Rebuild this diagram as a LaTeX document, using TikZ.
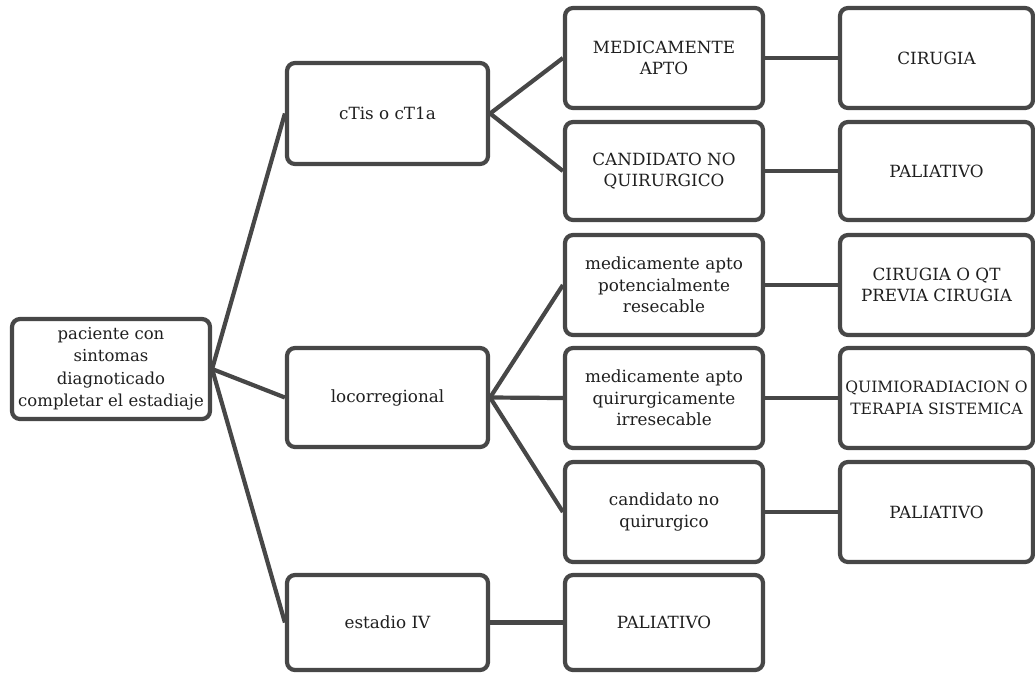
\documentclass[tikz,border=0pt]{standalone}
\usepackage{fontspec}
\setmainfont{DejaVu Serif}
\begin{document}
\begin{tikzpicture}[x=1pt,y=-1pt,
  box/.style={draw=black!72, line width=4.2pt, rounded corners=8pt, fill=white,
    align=center, inner sep=2pt, font=\fontsize{16.8}{21.5}\selectfont, text=black!88},
  link/.style={draw=black!72, line width=4.2pt}]
\useasboundingbox (0,0) rectangle (1035,673);
% root
\node[box, minimum width=198pt, minimum height=100pt, inner sep=0pt, font=\fontsize{16.5}{22.5}\selectfont] (root) at (111,369)
  {paciente con\\sintomas\\diagnoticado\\completar el estadiaje};
% level 2
\node[box, minimum width=201pt, minimum height=101pt] (ctis) at (387.5,113.5) {cTis o cT1a};
\node[box, minimum width=201pt, minimum height=99pt] (loco) at (387.5,397.5) {locorregional};
\node[box, minimum width=201pt, minimum height=95pt] (est) at (387.5,622.5) {estadio IV};
% level 3
\node[box, minimum width=198pt, minimum height=100pt] (medapto) at (664,58) {MEDICAMENTE\\APTO};
\node[box, minimum width=198pt, minimum height=98pt] (candq) at (664,171) {CANDIDATO NO\\QUIRURGICO};
\node[box, minimum width=198pt, minimum height=100pt] (medpot) at (664,285) {medicamente apto\\potencialmente\\resecable};
\node[box, minimum width=198pt, minimum height=100pt] (medirr) at (664,398) {medicamente apto\\quirurgicamente\\irresecable};
\node[box, minimum width=198pt, minimum height=100pt] (candno) at (664,512) {candidato no\\quirurgico};
\node[box, minimum width=198pt, minimum height=95pt] (pal3) at (664,622.5) {PALIATIVO};
% level 4
\node[box, minimum width=193pt, minimum height=100pt] (cir) at (936.5,58) {CIRUGIA};
\node[box, minimum width=193pt, minimum height=98pt] (pal1) at (936.5,171) {PALIATIVO};
\node[box, minimum width=193pt, minimum height=100pt] (cirqt) at (936.5,285) {CIRUGIA O QT\\PREVIA CIRUGIA};
\node[box, minimum width=193pt, minimum height=100pt, inner sep=0pt, font=\fontsize{15.6}{21.5}\selectfont] (quimio) at (936.5,398) {QUIMIORADIACION O\\TERAPIA SISTEMICA};
\node[box, minimum width=193pt, minimum height=100pt] (pal2) at (936.5,512) {PALIATIVO};
% connectors
\draw[link] (root.east) -- (ctis.west);
\draw[link] (root.east) -- (loco.west);
\draw[link] (root.east) -- (est.west);
\draw[link] (ctis.east) -- (medapto.west);
\draw[link] (ctis.east) -- (candq.west);
\draw[link] (loco.east) -- (medpot.west);
\draw[link] (loco.east) -- (medirr.west);
\draw[link] (loco.east) -- (candno.west);
\draw[link] (est.east) -- (pal3.west);
\draw[link] (medapto.east) -- (cir.west);
\draw[link] (candq.east) -- (pal1.west);
\draw[link] (medpot.east) -- (cirqt.west);
\draw[link] (medirr.east) -- (quimio.west);
\draw[link] (candno.east) -- (pal2.west);
\end{tikzpicture}
\end{document}
